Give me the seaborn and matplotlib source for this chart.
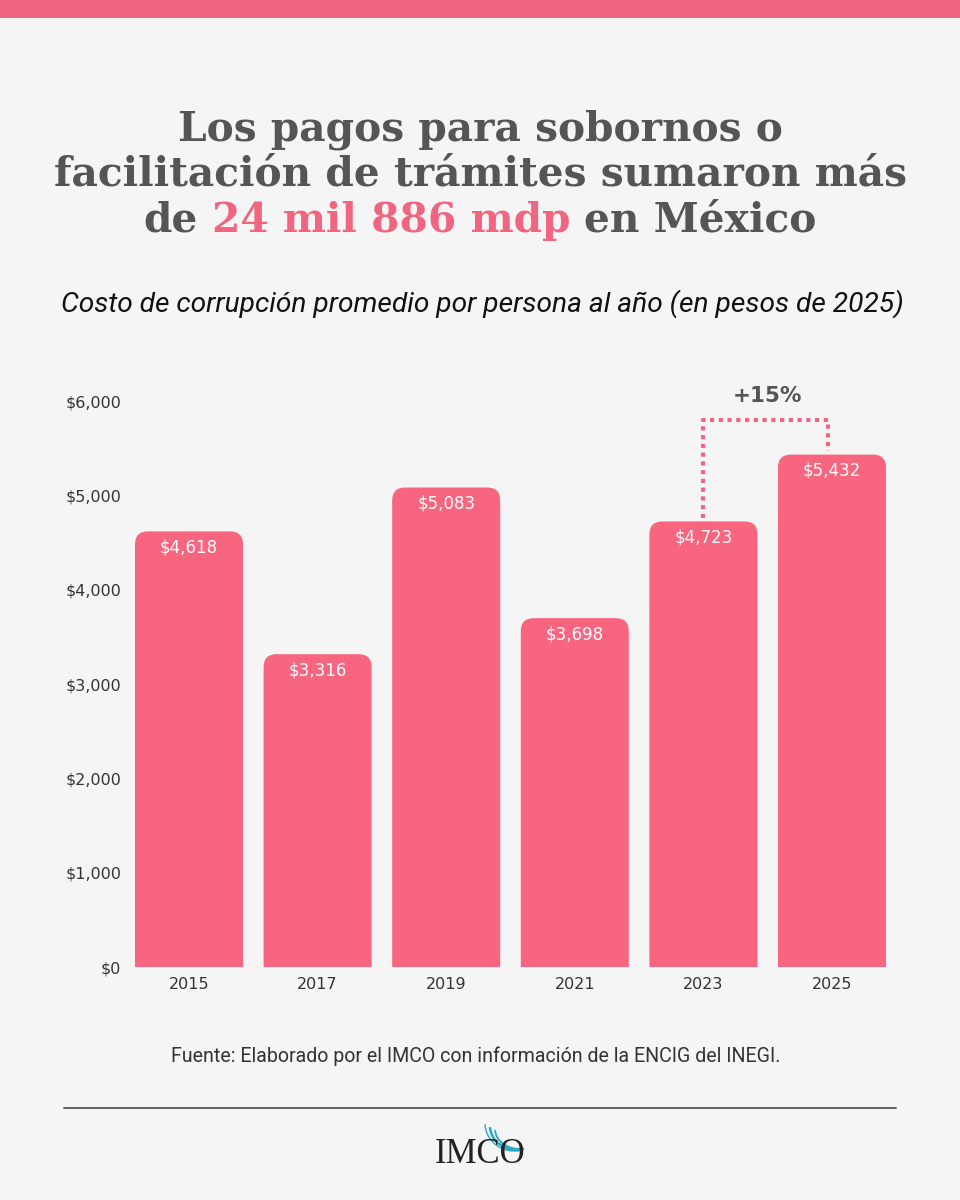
import matplotlib
matplotlib.use("Agg")
import matplotlib.pyplot as plt
import seaborn as sns
import pandas as pd
from matplotlib.patches import FancyBboxPatch, Rectangle, Arc

# ---------------- data ----------------
years = ["2015", "2017", "2019", "2021", "2023", "2025"]
costs = [4618, 3316, 5083, 3698, 4723, 5432]
value_labels = ["$4,618", "$3,316", "$5,083", "$3,698", "$4,723", "$5,432"]
y_ticks = [0, 1000, 2000, 3000, 4000, 5000, 6000]
y_tick_labels = ["$0", "$1,000", "$2,000", "$3,000", "$4,000", "$5,000", "$6,000"]
change_label = "+15%"
change_from = "2023"
change_to = "2025"
title_line1 = "Los pagos para sobornos o"
title_line2 = "facilitación de trámites sumaron más"
title_line3 = ["de ", "24 mil 886 mdp", " en México"]
subtitle = "Costo de corrupción promedio por persona al año (en pesos de 2025)"
source = "Fuente: Elaborado por el IMCO con información de la ENCIG del INEGI."
logo = "IMCO"

# ---------------- style ----------------
BG = "#F5F5F5"
PINK = "#F7657F"
BAND = "#F06680"
GRAY = "#555555"
DARK = "#333333"
W, H = 960, 1200

sns.set_theme(style="white")
plt.rcParams["font.family"] = ["DejaVu Sans"]

fig = plt.figure(figsize=(W / 100, H / 100), dpi=100, facecolor=BG)
renderer = fig.canvas.get_renderer()


def fx(px):
    return px / W


def fy(py):
    return 1 - py / H


def width_of(t):
    return t.get_window_extent(renderer).width


# top band
fig.add_artist(Rectangle((0, fy(18)), 1, 18 / H, transform=fig.transFigure,
                         color=BAND, lw=0, zorder=0))

# ---------------- title ----------------
tkw = dict(family="DejaVu Serif", weight="bold", color=GRAY, va="baseline")
t2 = fig.text(fx(480), fy(186), title_line2, ha="center", fontsize=30, **tkw)
fs = 30 * 854 / width_of(t2)
t2.set_fontsize(fs)
t1 = fig.text(fx(480), fy(140), title_line1, ha="center", fontsize=fs, **tkw)

# mixed colour third line
probe = fig.text(0, 0, "x", fontsize=fs, **tkw)
def measure(s):
    probe.set_text(s)
    return width_of(probe)
space_w = measure("a a") - measure("aa")
parts = [p.strip() for p in title_line3]
widths = [measure(p) for p in parts]
probe.remove()
total = sum(widths) + 2 * space_w
x0 = 480 - total / 2
colors3 = [GRAY, BAND, GRAY]
xpos = x0
for p, wdt, c in zip(parts, widths, colors3):
    kw = dict(tkw)
    kw["color"] = c
    fig.text(fx(xpos), fy(232), p, ha="left", fontsize=fs, **kw)
    xpos += wdt + space_w

# subtitle
st = fig.text(fx(482), fy(312), subtitle, ha="center", va="baseline",
              family=["Roboto", "DejaVu Sans"], style="italic", fontsize=17, color="#111111")
st.set_fontsize(17 * 845 / width_of(st))

# ---------------- chart ----------------
df = pd.DataFrame({"year": years, "cost": costs})
ax = fig.add_axes([fx(124.7), 233 / H, 771.6 / W, 566 / H])
ax.set_facecolor(BG)
sns.barplot(data=df, x="year", y="cost", color=PINK, saturation=1, width=0.84, ax=ax)
ax.set_xlim(-0.5, len(years) - 0.5)
ax.set_ylim(0, 6000)

# round top corners of the bars produced by seaborn
px_per_x = 771.6 / len(years)
px_per_y = 566 / 6000
aspect = px_per_x / px_per_y
radius_px = 13
for p in list(ax.patches):
    x, wdt, h = p.get_x(), p.get_width(), p.get_height()
    ext = 400
    fb = FancyBboxPatch((x, -ext), wdt, h + ext,
                        boxstyle=f"round,pad=0,rounding_size={radius_px / px_per_x}",
                        mutation_aspect=aspect, facecolor=PINK, edgecolor="none",
                        zorder=2)
    ax.add_patch(fb)
    p.set_visible(False)

for i, (v, lab) in enumerate(zip(costs, value_labels)):
    ax.text(i, v - 170, lab, ha="center", va="center", color="white", fontsize=12, zorder=3)

ax.set_yticks(y_ticks, y_tick_labels)
ax.set_xlabel("")
ax.set_ylabel("")
ax.tick_params(axis="y", length=0, pad=2.5, labelsize=11.5, labelcolor=DARK)
ax.tick_params(axis="x", length=0, pad=7, labelsize=11.5, labelcolor=DARK)
for s in ax.spines.values():
    s.set_visible(False)
ax.grid(False)

# change bracket
i0, i1 = years.index(change_from), years.index(change_to)
v0, v1 = costs[i0], costs[i1]
top = 5800
ax.plot([i0, i0, i1 - 0.03, i1 - 0.03], [v0 + 40, top, top, v1 + 40], color=BAND, lw=3,
        linestyle=(0, (1, 1.1)), dash_capstyle="butt", clip_on=False, zorder=3)
ax.text((i0 + i1) / 2, 6050, change_label, ha="center", va="center", fontsize=15.5,
        weight="bold", color=GRAY, clip_on=False)

# ---------------- footer ----------------
src = fig.text(fx(476), fy(1062), source, ha="center", va="baseline",
               family=["Roboto", "DejaVu Sans"], fontsize=13, color=DARK)
src.set_fontsize(13 * 608 / width_of(src))

fig.add_artist(plt.Line2D([fx(64), fx(896)], [fy(1108), fy(1108)], color="#555555",
                          lw=1.3, transform=fig.transFigure))

fig.text(fx(480), fy(1163), logo, ha="center", va="baseline", family="Liberation Serif",
         fontsize=25, color="#222222")
for cx, cy, ew, eh, lw in [(517, 1126, 54, 48, 1.8), (520, 1129, 50, 40, 1.3), (514, 1123, 58, 56, 1.0)]:
    fig.add_artist(Arc((fx(cx), fy(cy)), ew / W, eh / H, theta1=182, theta2=285,
                       color="#2AA7C9", lw=lw, transform=fig.transFigure))

fig.savefig("out.png", dpi=100, facecolor=BG)
